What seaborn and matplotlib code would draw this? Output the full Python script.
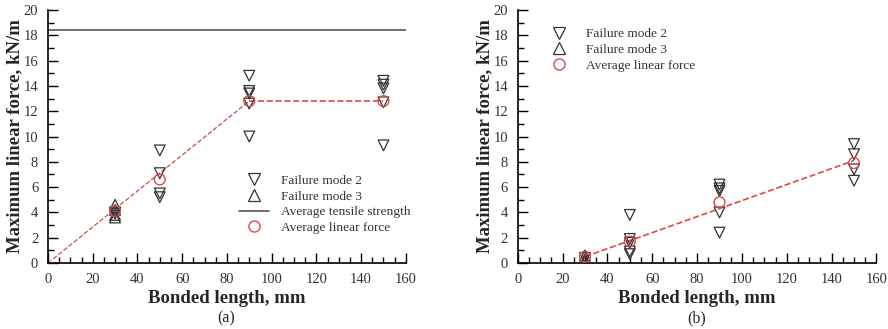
"""recria a figura de forca linear maxima vs comprimento colado (a) e (b)."""

import matplotlib

matplotlib.use("Agg")
import matplotlib.pyplot as plt
import seaborn as sns
from matplotlib.lines import Line2D
from matplotlib.ticker import MultipleLocator

# painel (a)
a_mode2_x = [30, 30, 50, 50, 50, 50, 90, 90, 90, 90, 90, 150, 150, 150, 150, 150]
a_mode2_y = [3.9, 4.0, 8.9, 7.1, 5.5, 5.2, 14.8, 13.6, 13.4, 12.6, 10.0, 14.4, 14.1, 13.8, 12.7, 9.3]
a_mode3_x = [30, 30, 30, 30]
a_mode3_y = [4.6, 4.2, 3.8, 3.6]
a_avg_x = [30, 50, 90, 150]
a_avg_y = [4.1, 6.6, 12.8, 12.8]
a_fit_x = [0, 90]
a_fit_y = [0, 12.8]
a_plateau_x = [90, 150]
a_plateau_y = [12.8, 12.8]
a_tensile = 18.4

# painel (b)
b_mode2_x = [30, 50, 50, 50, 50, 50, 90, 90, 90, 90, 90, 150, 150, 150, 150]
b_mode2_y = [0.4, 3.8, 1.9, 1.6, 0.9, 0.7, 6.2, 5.9, 5.7, 4.0, 2.4, 9.4, 8.6, 7.4, 6.5]
b_mode3_x = [30, 30, 30]
b_mode3_y = [0.6, 0.3, 0.1]
b_avg_x = [30, 50, 90, 150]
b_avg_y = [0.5, 1.7, 4.8, 7.9]
b_fit_x = [30, 150]
b_fit_y = [0.5, 8.1]

RED = "#e04848"
FONT = ["Liberation Serif", "DejaVu Serif"]

sns.set_style("white")
plt.rcParams["font.family"] = FONT


def _style_axes(ax):
    ax.set_xlim(0, 160)
    ax.set_ylim(0, 20)
    ax.xaxis.set_major_locator(MultipleLocator(20))
    ax.xaxis.set_minor_locator(MultipleLocator(5))
    ax.yaxis.set_major_locator(MultipleLocator(2))
    ax.yaxis.set_minor_locator(MultipleLocator(1))
    ax.tick_params(which="both", direction="in", bottom=True, left=True, top=False, right=False,
                   labelsize=10.5, pad=7, width=1.0, color="black", labelcolor="#333333")
    ax.tick_params(which="major", length=7)
    ax.tick_params(which="minor", length=4)
    for side in ("top", "right"):
        ax.spines[side].set_visible(False)
    for side in ("left", "bottom"):
        ax.spines[side].set_color("black")
        ax.spines[side].set_linewidth(1.2)
    ax.set_xlabel("Bonded length, mm", fontsize=13.5, fontweight="bold", labelpad=3)
    ax.set_ylabel("Maximum linear force, kN/m", fontsize=13.5, fontweight="bold", labelpad=0)


def _points(ax, mode2_x, mode2_y, mode3_x, mode3_y, avg_x, avg_y):
    sns.scatterplot(x=mode2_x, y=mode2_y, marker="v", s=60, facecolor="none",
                    edgecolor="#333333", linewidth=0.9, ax=ax, zorder=3)
    sns.scatterplot(x=mode3_x, y=mode3_y, marker="^", s=60, facecolor="none",
                    edgecolor="#333333", linewidth=0.9, ax=ax, zorder=3)
    sns.scatterplot(x=avg_x, y=avg_y, marker="o", s=60, facecolor="none",
                    edgecolor=RED, linewidth=1.0, ax=ax, zorder=4)


fig = plt.figure(figsize=(8.88, 3.29), dpi=100)
ax_a = fig.add_axes([0.054, 0.2006, 0.403, 0.769])
ax_b = fig.add_axes([0.583, 0.2006, 0.404, 0.769])

# (a)
ax_a.axhline(a_tensile, color="#555555", linewidth=1.2, zorder=2)
sns.lineplot(x=a_fit_x, y=a_fit_y, color="#c0504d", linestyle="--", linewidth=0.9,
             marker="x", markersize=5, markevery=[0], ax=ax_a, zorder=2)
sns.lineplot(x=a_plateau_x, y=a_plateau_y, color=RED, linestyle="--", linewidth=1.2, ax=ax_a, zorder=2)
_points(ax_a, a_mode2_x, a_mode2_y, a_mode3_x, a_mode3_y, a_avg_x, a_avg_y)
_style_axes(ax_a)

# (b)
sns.lineplot(x=b_fit_x, y=b_fit_y, color=RED, linestyle="--", linewidth=1.2, ax=ax_b, zorder=2)
_points(ax_b, b_mode2_x, b_mode2_y, b_mode3_x, b_mode3_y, b_avg_x, b_avg_y)
_style_axes(ax_b)

h_mode2 = Line2D([], [], linestyle="none", marker="v", markersize=8, markerfacecolor="none",
                 markeredgecolor="#333333", markeredgewidth=0.9)
h_mode3 = Line2D([], [], linestyle="none", marker="^", markersize=8, markerfacecolor="none",
                 markeredgecolor="#333333", markeredgewidth=0.9)
h_tens = Line2D([], [], color="#555555", linewidth=1.2)
h_avg = Line2D([], [], linestyle="none", marker="o", markersize=8, markerfacecolor="none",
               markeredgecolor=RED, markeredgewidth=1.0)

ax_a.legend([h_mode2, h_mode3, h_tens, h_avg],
            ["Failure mode 2", "Failure mode 3", "Average tensile strength", "Average linear force"],
            loc="upper left", bbox_to_anchor=(0.52, 0.37), frameon=False, fontsize=9.6,
            handlelength=2.2, handletextpad=0.9, labelspacing=0.25, borderaxespad=0,
            labelcolor="#333333")
ax_b.legend([h_mode2, h_mode3, h_avg],
            ["Failure mode 2", "Failure mode 3", "Average linear force"],
            loc="upper left", bbox_to_anchor=(0.06, 0.95), frameon=False, fontsize=9.6,
            handlelength=2.2, handletextpad=0.9, labelspacing=0.25, borderaxespad=0,
            labelcolor="#333333")

fig.text(0.255, 0.02, "(a)", ha="center", fontsize=11.5)
fig.text(0.785, 0.02, "(b)", ha="center", fontsize=11.5)

fig.savefig("out.png", dpi=100)
